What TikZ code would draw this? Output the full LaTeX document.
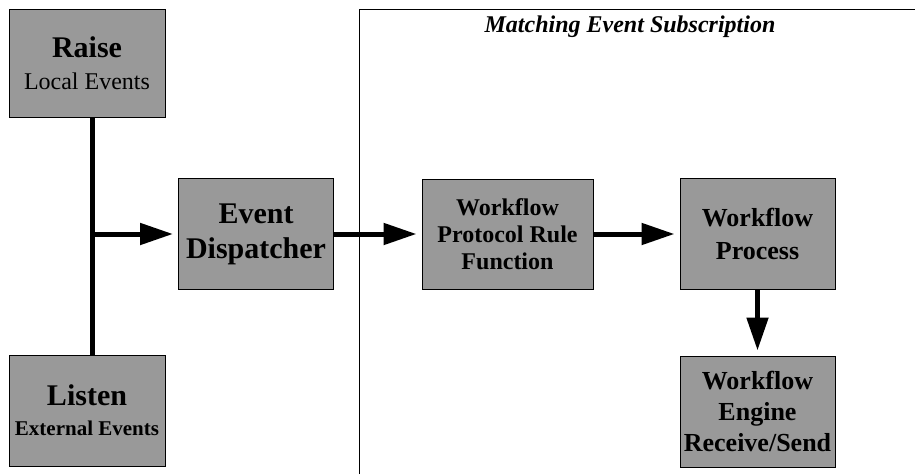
\documentclass[tikz,border=0pt]{standalone}
\usepackage{fontspec}
\setmainfont{Liberation Serif}
\usetikzlibrary{arrows.meta}
\definecolor{boxgray}{RGB}{153,153,153}
\newcommand*{\boxw }{155pt}
\newcommand*{\boxh }{111pt}
\newcommand*{\rowy }{234}
\newcommand*{\spine}{92.5}
\newcommand*{\fs}[2]{\fontsize{#1}{#2}\selectfont}
\tikzset{
    evbox/.style = {draw, fill=boxgray, line width=1pt, minimum width=\boxw, minimum height=\boxh, inner sep=0pt, align=center},
    flow/.style  = {line width=5pt, -{Triangle[length=33pt,width=21pt]}, shorten >=5pt},
}

\begin{document}
\begin{tikzpicture}[x=1pt, y=-1pt]
    \useasboundingbox (0,0) rectangle (915,474);
    % subscription frame, open to the right and bottom
    \draw [line width=1pt] (359,474) -- (359,9) -- (915,9);
    \node [font=\bfseries\itshape\fs{24}{28}] (title) at (630,27) {Matching Event Subscription};

    \node [evbox, minimum width=156pt, minimum height=108pt, font=\fs{24}{32}] (raise)  at (87,63)    {{\bfseries\fs{30}{32}Raise}\\Local Events};
    \node [evbox, minimum width=156pt, font=\bfseries\fs{21}{30}]             (listen) at (87,410.5) {{\fs{30}{30}Listen}\\External Events};
    \node [evbox, font=\bfseries\fs{30}{35}]  (disp)   at (256,\rowy)  {Event\\Dispatcher};
    \node [evbox, minimum width=171pt, minimum height=110pt, font=\bfseries\fs{24}{27}] (rule) at (507.5,\rowy) {Workflow\\Protocol Rule\\Function};
    \node [evbox, font=\bfseries\fs{26}{33}]  (proc)   at (757.5,\rowy) {Workflow\\Process};
    \node [evbox, font=\bfseries\fs{26}{31}]  (engine) at (757.5,411.5) {Workflow\\Engine\\Receive/Send};

    \coordinate (fork) at (\spine,\rowy);
    \draw [line width=5pt] (fork |- raise.south) -- (fork |- listen.north);
    \draw [flow] (fork) -- (disp);
    \draw [flow] (disp) -- (rule);
    \draw [flow] (rule) -- (proc);
    \draw [flow] (proc) -- (engine);
\end{tikzpicture}
\end{document}
